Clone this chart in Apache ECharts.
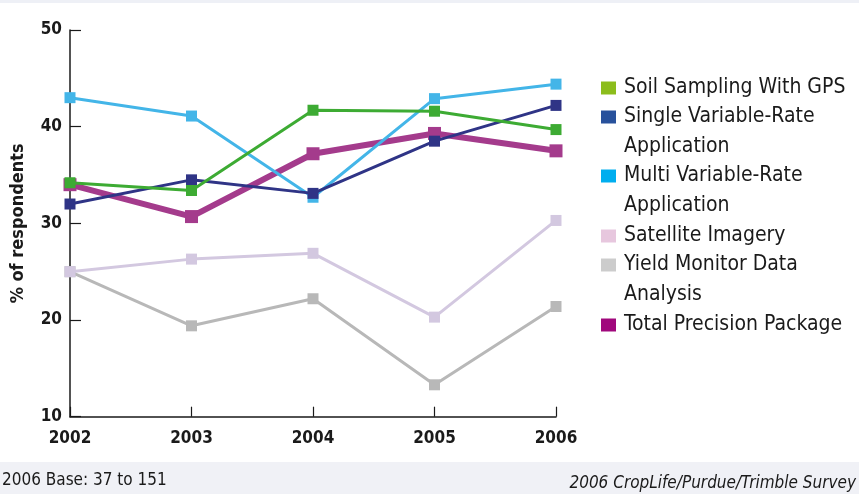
<!DOCTYPE html>
<html>
<head>
<meta charset="utf-8">
<script src="https://cdn.jsdelivr.net/npm/echarts@6/dist/echarts.min.js"></script>
<style>
  html, body { margin: 0; padding: 0; background: #ffffff; }
  #chart { width: 859px; height: 494px; }
</style>
</head>
<body>
<div id="chart"></div>
<script>
// Survey years and adoption shares (% of respondents)
const years = ['2002', '2003', '2004', '2005', '2006'];
const soilSamplingGPS   = [34.2, 33.4, 41.7, 41.6, 39.7];
const singleVariable    = [32.0, 34.5, 33.1, 38.5, 42.2];
const multiVariable     = [43.0, 41.1, 32.7, 42.9, 44.4];
const satelliteImagery  = [25.0, 26.3, 26.9, 20.3, 30.3];
const yieldMonitor      = [25.0, 19.4, 22.2, 13.3, 21.4];
const totalPrecision    = [34.0, 30.7, 37.2, 39.3, 37.5];
const yTicks = [10, 20, 30, 40, 50];

const names = [
  'Soil Sampling With GPS',
  'Single Variable-Rate Application',
  'Multi Variable-Rate Application',
  'Satellite Imagery',
  'Yield Monitor Data Analysis',
  'Total Precision Package'
];
// wrapped legend captions
const captions = {
  'Soil Sampling With GPS': 'Soil Sampling With GPS',
  'Single Variable-Rate Application': 'Single Variable-Rate\nApplication',
  'Multi Variable-Rate Application': 'Multi Variable-Rate\nApplication',
  'Satellite Imagery': 'Satellite Imagery',
  'Yield Monitor Data Analysis': 'Yield Monitor Data\nAnalysis',
  'Total Precision Package': 'Total Precision Package'
};
const lineColors = ['#3dab33', '#2f3486', '#43b5e8', '#d3c8e0', '#b8b8b8', '#a43b8c'];
const swatchColors = ['#8cbd1c', '#28519c', '#00aeef', '#e7c7de', '#cccccc', '#a0087c'];
const values = [soilSamplingGPS, singleVariable, multiVariable, satelliteImagery, yieldMonitor, totalPrecision];
const drawOrder = [8, 7, 6, 5, 4, 5.5];

const NARROW = "'Liberation Sans Narrow', 'DejaVu Sans Condensed', sans-serif";
const LEGEND_FONT = "'DejaVu Sans Condensed', 'Liberation Sans Narrow', sans-serif";
const LINE_H = 29.6;
// vertical centre of each legend swatch
const swatchCentres = [88, 117, 176, 236, 265, 325];

const chart = echarts.init(document.getElementById('chart'), null, { renderer: 'canvas' });

const legends = names.map((name, i) => {
  const twoLines = captions[name].indexOf('\n') >= 0;
  const half = twoLines ? LINE_H * 1.5 : LINE_H / 2;
  return {
    orient: 'vertical',
    left: 601,
    top: swatchCentres[i] - half,
    padding: 0,
    itemWidth: 15,
    itemHeight: 13,
    itemGap: 0,
    icon: 'rect',
    selectedMode: false,
    data: [{ name: name, itemStyle: { color: swatchColors[i] } }],
    formatter: n => (twoLines ? '\n' : '') + captions[n],
    textStyle: {
      fontFamily: LEGEND_FONT,
      fontSize: 21,
      lineHeight: LINE_H,
      color: '#1a1a1a',
      padding: [0, 0, 0, 3]
    }
  };
});

const series = names.map((name, i) => ({
  name: name,
  type: 'line',
  data: values[i],
  z: drawOrder[i],
  symbol: 'rect',
  symbolSize: i === 5 ? 13 : 11,
  showSymbol: true,
  animation: false,
  lineStyle: { color: lineColors[i], width: i === 5 ? 6 : 3 },
  itemStyle: { color: lineColors[i], borderWidth: 0 },
  emphasis: { disabled: true }
}));

chart.setOption({
  backgroundColor: '#ffffff',
  animation: false,
  graphic: [
    { type: 'rect', left: 0, top: 0, z: -10, shape: { width: 859, height: 3 }, style: { fill: '#eef0f6' } },
    { type: 'rect', left: 0, top: 462, z: -10, shape: { width: 859, height: 32 }, style: { fill: '#f0f1f6' } }
  ],
  title: [
    {
      text: '2006 Base: 37 to 151',
      left: 2, top: 472, padding: 0,
      textStyle: { fontFamily: NARROW, fontSize: 17, fontWeight: 'normal', color: '#1a1a1a' }
    },
    {
      text: '2006 CropLife/Purdue/Trimble Survey',
      right: 3, top: 475, padding: 0,
      textStyle: { fontFamily: NARROW, fontSize: 17, fontWeight: 'normal', fontStyle: 'italic', color: '#1a1a1a' }
    }
  ],
  legend: legends,
  grid: { left: 70, right: 303, top: 30, bottom: 77.3, containLabel: false, outerBoundsMode: 'none' },
  xAxis: {
    type: 'category',
    data: years,
    boundaryGap: false,
    axisLine: { lineStyle: { color: '#1a1a1a', width: 1.5 } },
    axisTick: { inside: true, length: 10, lineStyle: { color: '#1a1a1a', width: 1.2 } },
    axisLabel: { fontFamily: NARROW, fontSize: 17, fontWeight: 'bold', color: '#1a1a1a', margin: 13 },
    splitLine: { show: false }
  },
  yAxis: {
    type: 'value',
    min: yTicks[0],
    max: yTicks[yTicks.length - 1],
    interval: 10,
    name: '% of respondents',
    nameLocation: 'middle',
    nameGap: 43,
    nameTextStyle: { fontFamily: NARROW, fontSize: 18, fontWeight: 'bold', color: '#1a1a1a' },
    axisLine: { show: true, lineStyle: { color: '#1a1a1a', width: 1.5 } },
    axisTick: { show: true, inside: true, length: 11, lineStyle: { color: '#1a1a1a', width: 1.2 } },
    axisLabel: { fontFamily: NARROW, fontSize: 17, fontWeight: 'bold', color: '#1a1a1a', margin: 8 },
    splitLine: { show: false }
  },
  series: series
});
</script>
</body>
</html>
